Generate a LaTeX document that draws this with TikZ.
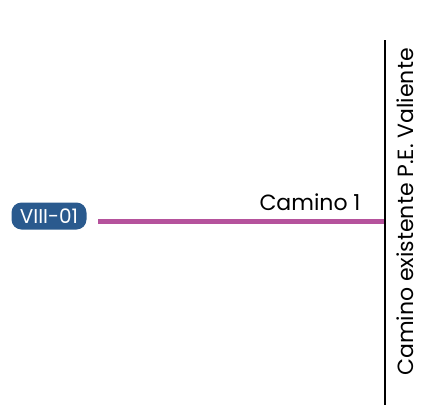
\documentclass[tikz,border=0pt]{standalone}
\usepackage{fontspec}
\setmainfont{Poppins}
\definecolor{roadmag}{HTML}{B5529C}
\definecolor{nodeblue}{HTML}{2A5A8E}
\begin{document}
\begin{tikzpicture}[x=1pt,y=-1pt,
  lbl/.style={font=\fontsize{22}{22}\selectfont, inner sep=0pt},
  tag/.style={fill=nodeblue, text=white, rounded corners=10pt, inner xsep=3pt, inner ysep=2pt, font=\fontsize{20}{20}\selectfont, minimum height=27pt, minimum width=75pt}]
\useasboundingbox (0,0) rectangle (421,405);
\coordinate (vtop) at (385,40);
\coordinate (vbot) at (385,405);
\coordinate (jn) at (385,221);
\node[tag] (v8) at (49,216) {VIII-01};
\coordinate (mstart) at (98,221);
\draw[roadmag, line width=5pt] (mstart) -- (jn);
\draw[black, line width=2.5pt] (vtop) -- (vbot);
\node[lbl, anchor=base] (c1) at (310,210) {Camino 1};
\node[lbl, rotate=90, anchor=base] (ce) at (413,212) {Camino existente P.E. Valiente};
\end{tikzpicture}
\end{document}
